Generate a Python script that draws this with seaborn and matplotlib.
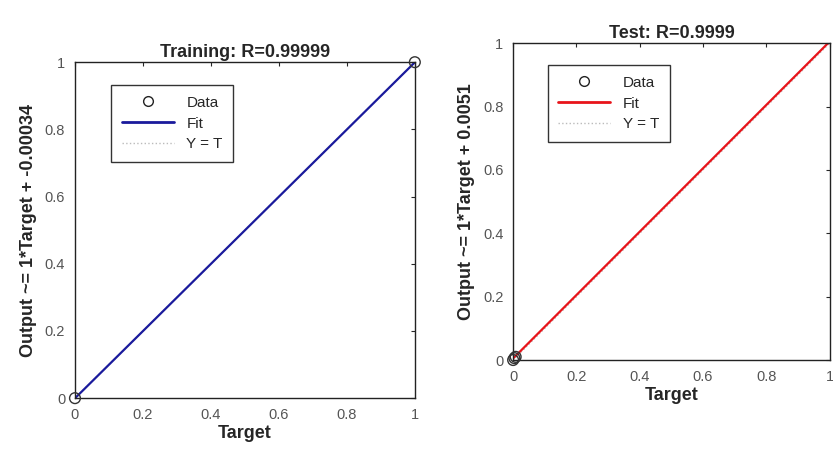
import matplotlib
matplotlib.use("Agg")
import matplotlib.pyplot as plt
import seaborn as sns
from matplotlib.lines import Line2D

sns.set_style("white")
plt.rcParams['font.family'] = ['Liberation Sans', 'DejaVu Sans']

# data
train_target = [0.0, 1.0]
train_output = [0.0, 1.0]
train_fit_x = [0.0, 1.0]
train_fit_y = [-0.00034, 0.99966]

test_target = [0.0, 0.004, 0.008]
test_output = [0.0, 0.006, 0.010]
test_fit_x = [0.0, 1.0]
test_fit_y = [0.0051, 1.0051]

ticks = [0, 0.2, 0.4, 0.6, 0.8, 1]
tick_labels = ['0', '0.2', '0.4', '0.6', '0.8', '1']

panels = [
    dict(title='Training: R=0.99999', ylabel='Output ~= 1*Target + -0.00034',
         x=train_target, y=train_output, fx=train_fit_x, fy=train_fit_y,
         color='#1a1a9c', rect=[0.09, 0.123, 0.408, 0.74]),
    dict(title='Test: R=0.9999', ylabel='Output ~= 1*Target + 0.0051',
         x=test_target, y=test_output, fx=test_fit_x, fy=test_fit_y,
         color='#e8141a', rect=[0.616, 0.207, 0.38, 0.698]),
]

fig = plt.figure(figsize=(8.33, 4.54), dpi=100)

for p in panels:
    ax = fig.add_axes(p['rect'])
    # Y = T reference
    sns.lineplot(x=[0, 1], y=[0, 1], ax=ax, color='#bbbbbb', linestyle=':', linewidth=1)
    sns.lineplot(x=p['fx'], y=p['fy'], ax=ax, color=p['color'], linewidth=1.6)
    sns.scatterplot(x=p['x'], y=p['y'], ax=ax, marker='o', s=60,
                    facecolor='none', edgecolor='#333333', linewidth=1, clip_on=False, zorder=5)
    ax.set_xlim(0, 1)
    ax.set_ylim(0, 1)
    ax.set_xticks(ticks)
    ax.set_xticklabels(tick_labels)
    ax.set_yticks(ticks)
    ax.set_yticklabels(tick_labels)
    ax.tick_params(direction='in', length=3, labelsize=10.5, labelcolor='#555555',
                   top=True, right=True, pad=7)
    for s in ax.spines.values():
        s.set_color('#222222')
        s.set_linewidth(1)
    ax.set_title(p['title'], fontsize=13, fontweight='bold', pad=4)
    ax.set_xlabel('Target', fontsize=13, fontweight='bold', labelpad=2)
    ax.set_ylabel(p['ylabel'], fontsize=13, fontweight='bold', labelpad=6)
    handles = [
        Line2D([], [], marker='o', linestyle='none', markerfacecolor='none',
               markeredgecolor='#222222', markersize=7),
        Line2D([], [], color=p['color'], linewidth=2),
        Line2D([], [], color='#bbbbbb', linestyle=':', linewidth=1),
    ]
    leg = ax.legend(handles, ['Data', 'Fit', 'Y = T'], loc='upper left',
                    bbox_to_anchor=(0.085, 0.955), fontsize=11, fancybox=False,
                    framealpha=1, edgecolor='#333333', handlelength=3.4,
                    labelspacing=0.45, borderpad=0.7)
    leg.get_frame().set_linewidth(1)

fig.savefig('out.png', dpi=100)
